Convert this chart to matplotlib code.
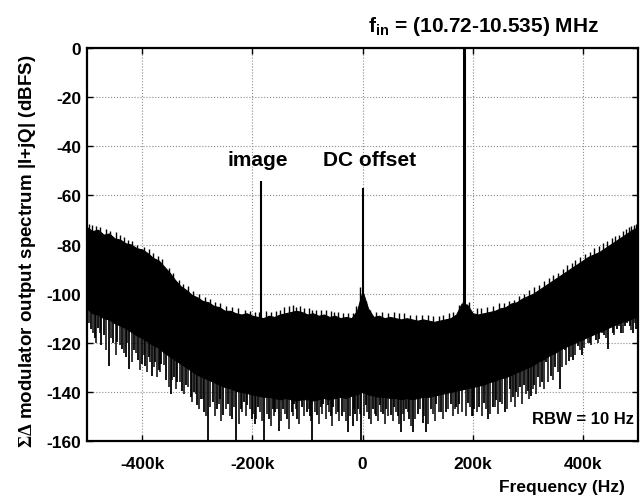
import numpy as np
import matplotlib
matplotlib.use('Agg')
import matplotlib.pyplot as plt

# font setup: Arial-like bold text, serif for the Sigma-Delta sign
plt.rcParams['font.family'] = ['Liberation Sans', 'DejaVu Sans']
plt.rcParams['font.weight'] = 'bold'
plt.rcParams['axes.labelweight'] = 'bold'
plt.rcParams['axes.unicode_minus'] = False
plt.rcParams['mathtext.fontset'] = 'custom'
plt.rcParams['mathtext.rm'] = 'Liberation Serif'
plt.rcParams['mathtext.bf'] = 'Liberation Sans:bold'

# ---- data (frequency in kHz, level in dBFS) ----
freq_k = np.arange(-500, 501, 10)

# top of the dense noise band
noise_top = [-73, -74.5, -74, -76, -75.5, -77.5, -78, -79.5, -80, -81.5,
             -82, -83.5, -85.5, -86.5, -89, -91.5, -94.5, -97, -98.5, -100.5,
             -101.5, -103, -103.5, -105, -105.5, -107, -107, -108, -108.5, -108,
             -109, -109.5, -110, -109, -109.5, -108.5, -108, -107.5, -107, -107.5,
             -108.5, -108, -109, -108.5, -109.5, -109, -110, -109.5, -110, -107,
             -99, -106, -109.5, -109, -110, -109.5, -110, -110.5, -110, -110.5,
             -111, -110.5, -111, -111.5, -111, -110.5, -110, -108.5, -104, -104.5,
             -108, -108.5, -108, -107.5, -107, -106, -105.5, -104, -103.5, -102,
             -101, -100, -98.5, -97, -95.5, -94, -92.5, -91, -89.5, -88,
             -86.5, -85, -84, -83, -81.5, -80, -78.5, -77, -75.5, -74, -73]

# bottom of the dense noise band
noise_bot = [-106, -108, -108.5, -110, -110.5, -112, -113, -114, -115.5, -117,
             -118, -119.5, -121, -122, -124, -125.5, -127, -128.5, -130, -131.5,
             -133, -134, -135, -136, -137, -138, -138.5, -139.5, -140, -140.5,
             -141, -141.5, -142, -142, -142.5, -143, -142.5, -143, -143.5, -143,
             -143, -143.5, -143, -142.5, -143, -142.5, -142, -142.5, -141.5, -141,
             -140, -141, -141.5, -142, -142, -142.5, -142.5, -143, -142.5, -143,
             -142.5, -142, -142, -141.5, -141, -140.5, -140, -139.5, -139, -138.5,
             -138, -137.5, -137, -136, -135.5, -134.5, -134, -133, -132, -131,
             -130, -129, -127.5, -126.5, -125, -124, -122.5, -121.5, -120.5, -119.5,
             -118.5, -117.5, -116.5, -115.5, -114.5, -113.5, -112.5, -111.5, -111, -110, -109]

# deep single downward noise spikes
spike_f = [-493, -486, -480, -474, -469, -460, -452, -445, -436, -430,
           -424, -415, -408, -400, -394, -388, -382, -376, -370, -365,
           -356, -348, -342, -336, -327, -320, -312, -306, -300, -294,
           -287, -280, -272, -264, -258, -253, -244, -236, -229, -221,
           -215, -210, -201, -196, -190, -178, -169, -163, -158, -152,
           -145, -137, -128, -124, -119, -110, -101, -96, -91, -82,
           -76, -71, -62, -57, -53, -45, -38, -27, -18, -13,
           -8, -3, 6, 12, 19, 25, 31, 38, 43, 52,
           58, 64, 70, 79, 85, 91, 100, 109, 115, 124,
           134, 143, 152, 161, 170, 176, 191, 198, 203, 212,
           221, 227, 237, 243, 249, 258, 267, 273, 279, 285,
           294, 300, 306, 312, 318, 326, 333, 342, 350, 358,
           367, 374, 382, 391, 398, 406, 412, 418, 424, 430,
           438, 446, 454, 461, 469, 476, 485, 491, 497]
spike_db = [-114.5, -118, -114, -121, -117, -129.5, -120, -119.5, -122.5, -126,
            -130.5, -123, -127, -128.5, -129.5, -126, -133.5, -128, -131, -128.5,
            -135, -141, -134, -136, -139.5, -137, -142, -140, -145.5, -143,
            -148, -160, -144, -147, -143, -149.5, -145, -151, -160, -147,
            -144, -145.5, -151, -153, -146, -160, -151, -147, -148, -156,
            -147, -151, -148, -145, -151, -146, -148, -150, -160, -149.5,
            -146, -145, -145.5, -150, -146, -148, -150, -156.5, -154, -149,
            -147, -159.5, -145.5, -151, -147, -150, -145.5, -149, -147, -149.5,
            -146, -150, -156.5, -147, -151, -156.5, -149, -152.5, -156.5, -147,
            -145, -148, -148, -145, -146, -145, -144.5, -150, -147, -146,
            -144.5, -151, -146, -143.5, -144, -148, -139, -142, -140, -138,
            -137, -139.5, -141.5, -137, -134, -136, -128, -133.5, -130, -139,
            -123, -127.5, -127, -121.5, -125, -117, -120, -114.5, -119, -118.5,
            -117, -122.5, -116, -114.5, -116, -113, -113, -116, -114.5]

# shorter spikes filling the gaps between the deep ones
spike2_f = [-497, -489, -483, -477, -465, -456, -448, -440, -433, -427,
            -419, -411, -404, -397, -391, -385, -379, -373, -367, -361,
            -352, -345, -339, -332, -324, -316, -309, -303, -297, -290,
            -284, -276, -268, -261, -256, -248, -240, -233, -225, -218,
            -212, -205, -199, -193, -186, -182, -174, -166, -160, -155,
            -148, -141, -133, -126, -121, -115, -106, -98, -93, -86,
            -79, -73, -67, -60, -55, -49, -42, -34, -30, -23,
            -15, -10, -5, 3, 9, 15, 22, 28, 34, 41,
            47, 55, 61, 67, 73, 76, 82, 88, 95, 104,
            112, 119, 128, 131, 138, 147, 156, 164, 167, 173,
            180, 188, 195, 201, 207, 216, 224, 232, 240, 246,
            253, 262, 270, 276, 282, 289, 297, 303, 309, 315,
            322, 329, 337, 346, 354, 362, 370, 378, 386, 394,
            402, 409, 415, 421, 427, 434, 442, 450, 457, 465,
            472, 480, 488, 494]
spike2_db = [-112, -116, -120, -116, -123, -118, -125, -121, -124, -120,
             -128, -124, -131, -125, -132, -128, -130, -134, -132, -129,
             -138, -135, -139, -136, -141, -138, -144, -141, -147, -143,
             -150, -146, -150, -145, -152, -147, -150, -146, -153, -148,
             -150, -147, -149, -151, -148, -152, -149, -154, -150, -147,
             -152, -149, -155, -150, -147, -153, -150, -147, -152, -148,
             -153, -149, -151, -148, -154, -149, -152, -148, -152, -150,
             -147, -152, -149, -150, -148, -153, -149, -152, -148, -153,
             -150, -152, -148, -153, -149, -152, -148, -154, -151, -147,
             -150, -153, -149, -152, -148, -151, -147, -150, -147, -149,
             -148, -150, -146, -150, -148, -150, -147, -149, -146, -149,
             -145, -147, -144, -146, -142, -145, -141, -143, -139, -141,
             -138, -139, -136, -135, -132, -130, -129, -126, -125, -123,
             -122, -120, -121, -117, -120, -116, -118, -114, -117, -113,
             -116, -112, -115, -112]

# small upward whiskers on the top edge
whisk_f = [-497, -491, -484, -476, -466, -459, -447, -440, -433, -425,
           -418, -410, -396, -388, -380, -372, -364, -352, -344, -333,
           -325, -316, -307, -297, -286, -276, -267, -258, -247, -236,
           -226, -214, -204, -196, -188, -176, -166, -157, -150, -142,
           -134, -127, -120, -114, -106, -98, -92, -85, -76, -66,
           -58, -51, -44, -35, -26, -17, -12, -4, 6, 14,
           24, 36, 46, 57, 66, 76, 86, 98, 108, 118,
           128, 138, 147, 157, 165, 176, 183, 194, 207, 215,
           226, 236, 247, 256, 265, 275, 284, 293, 303, 312,
           321, 330, 338, 346, 355, 363, 372, 380, 386, 395,
           403, 412, 421, 429, 437, 444, 452, 459, 466, 472,
           479, 484, 488, 492, 496]
whisk_db = [-71.5, -72, -72.5, -73, -73.5, -74.5, -75, -76, -77, -78,
            -78.5, -80, -81, -82, -83.5, -84.5, -86, -89.5, -91.5, -94.5,
            -96, -97, -99, -100, -101.5, -102, -103.5, -104, -105, -105.5,
            -106, -106.5, -107, -107.5, -107.5, -107, -107.5, -107, -106.5, -105.5,
            -105, -104.5, -105.5, -105, -106, -106, -106.5, -106.5, -106.5, -106.5,
            -107, -107.5, -107.5, -108, -108, -108, -105, -97.5, -103, -106.5,
            -107.5, -107.5, -108, -107.5, -108, -108, -108.5, -108.5, -108.5, -108.5,
            -109, -109, -108.5, -108, -107.5, -104.5, -103, -103.5, -106, -106,
            -105.5, -105, -104, -104, -103, -102.5, -101, -100, -98.5, -97.5,
            -96.5, -95, -93.5, -92.5, -91.5, -90, -88.5, -87.5, -86.5, -85,
            -84, -83, -81.5, -80.5, -79.5, -78.5, -77.5, -76.5, -76, -74.5,
            -73.5, -73, -72.5, -72, -71.5]

# discrete tones: image, DC offset, input tone
tone_f = [-185, 0, 185]
tone_db = [-54, -57, 0]
tone_lw = [1.5, 1.5, 2.2]

xtick_vals = [-400, -200, 0, 200, 400]
xtick_lbls = ['-400k', '-200k', '0', '200k', '400k']
ytick_vals = [0, -20, -40, -60, -80, -100, -120, -140, -160]

# ---- plot ----
fig = plt.figure(figsize=(6.43, 5.02), dpi=100)
ax = fig.add_axes([87/643, 1-442/502, 551/643, 393/502])

top = np.array(noise_top)
bot = np.array(noise_bot)
ax.fill_between(freq_k, bot, top, color='k', lw=0.8, zorder=2)

# spikes hang from inside the band
mid = (top + bot) / 2
ax.vlines(spike_f, spike_db, np.interp(spike_f, freq_k, mid), color='k', lw=1.3, zorder=2)
ax.vlines(spike2_f, spike2_db, np.interp(spike2_f, freq_k, mid), color='k', lw=1.1, zorder=2)
ax.vlines(whisk_f, np.interp(whisk_f, freq_k, top) - 3, whisk_db, color='k', lw=1.0, zorder=2)

for f, d, w in zip(tone_f, tone_db, tone_lw):
    ax.vlines(f, -125, d, color='k', lw=w, zorder=3)

ax.set_xlim(-500, 500)
ax.set_ylim(-160, 0)
ax.set_xticks(xtick_vals)
ax.set_xticklabels(xtick_lbls)
ax.set_yticks(ytick_vals)
ax.tick_params(direction='in', length=4, width=1, top=True, right=True, labelsize=12.5)
ax.tick_params(axis='x', pad=11)
ax.tick_params(axis='y', pad=4)
ax.grid(True, color='#8c8c8c', linestyle=':', lw=0.8)
ax.set_axisbelow(True)
for s in ax.spines.values():
    s.set_linewidth(1.6)

ax.set_ylabel(r'$\Sigma\Delta$ modulator output spectrum |I+jQ| (dBFS)',
              fontsize=13.5, fontweight='bold')
ax.yaxis.set_label_coords(-0.089, 0.485)

ax.text(-191, -45.5, 'image', fontsize=15, ha='center', va='center')
ax.text(12, -45.5, 'DC offset', fontsize=15, ha='center', va='center')
ax.text(493, -151, 'RBW = 10 Hz', fontsize=12, ha='right', va='center')

fig.text(625/643, 1-488/502, 'Frequency (Hz)', fontsize=12.5, ha='right', va='center')
fig.text(599/643, 1-32.5/502, r'f$_{\mathbf{in}}$ = (10.72-10.535) MHz', fontsize=15,
         ha='right', va='baseline')

fig.savefig('out.png', dpi=100)
